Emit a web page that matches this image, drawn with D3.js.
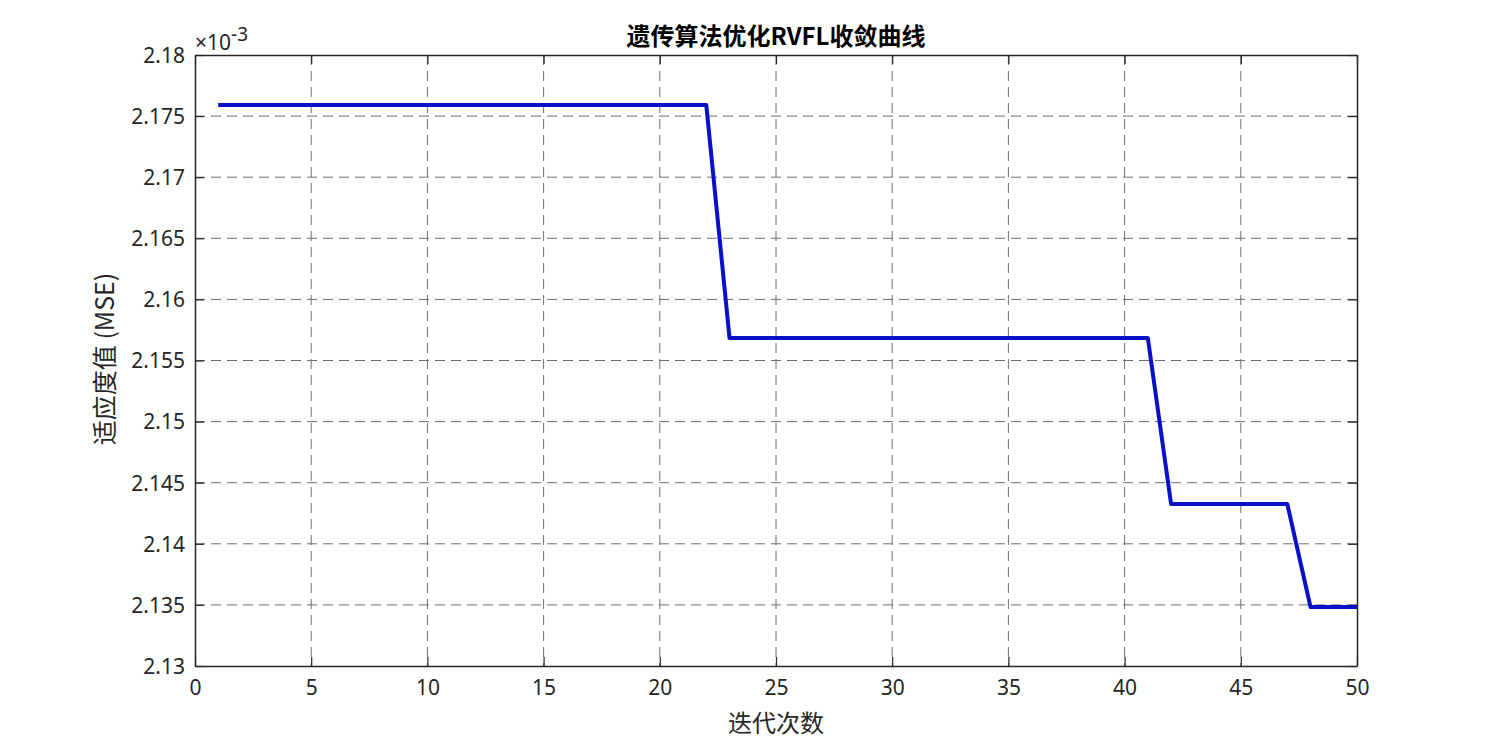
<!DOCTYPE html>
<html>
<head>
<meta charset="utf-8">
<script src="https://cdn.jsdelivr.net/npm/d3@7"></script>
<style>
  body { margin: 0; background: #fff; }
  text { font-family: "Noto Sans", "Noto Sans CJK SC", sans-serif; fill: #262626; }
</style>
</head>
<body>
<div id="chart"></div>
<script>
// data (fitness value per generation)
var generations = d3.range(1, 51);
var levels = [2.17591e-3, 2.15684e-3, 2.14326e-3, 2.13483e-3];
var stepStarts = [1, 23, 42, 48];   // generation at which each level begins
var xTicks = [0, 5, 10, 15, 20, 25, 30, 35, 40, 45, 50];
var yTicks = [2.13e-3, 2.135e-3, 2.14e-3, 2.145e-3, 2.15e-3, 2.155e-3, 2.16e-3, 2.165e-3, 2.17e-3, 2.175e-3, 2.18e-3];

var fitness = generations.map(function(g) {
  var i = 0;
  while (i + 1 < stepStarts.length && g >= stepStarts[i + 1]) i++;
  return levels[i];
});
var data = generations.map(function(g, i) { return {gen: g, val: fitness[i]}; });

// set the dimensions and margins of the graph
var margin = {top: 55, right: 143, bottom: 84, left: 195},
    width = 1500 - margin.left - margin.right,
    height = 750 - margin.top - margin.bottom;

var svg = d3.select("#chart")
  .append("svg")
  .attr("width", 1500)
  .attr("height", 750)
  .append("g")
  .attr("transform", "translate(" + margin.left + "," + margin.top + ")");

var x = d3.scaleLinear().domain([0, 50]).range([0, width]);
var y = d3.scaleLinear().domain([2.13e-3, 2.18e-3]).range([height, 0]);

// grid
svg.append("g").selectAll("line")
  .data(xTicks.slice(1, -1))
  .enter().append("line")
  .attr("x1", d => x(d)).attr("x2", d => x(d))
  .attr("y1", 0).attr("y2", height)
  .attr("stroke", "#6e6e6e").attr("stroke-width", 1)
  .attr("stroke-dasharray", "10,6");

svg.append("g").selectAll("line")
  .data(yTicks.slice(1, -1))
  .enter().append("line")
  .attr("x1", 0).attr("x2", width)
  .attr("y1", d => y(d)).attr("y2", d => y(d))
  .attr("stroke", "#6e6e6e").attr("stroke-width", 1)
  .attr("stroke-dasharray", "10,6");

// axes (ticks inside, box on)
var fmtY = d => d3.format("")(+(d * 1000).toFixed(3));

var xAxis = svg.append("g")
  .attr("transform", "translate(0," + height + ")")
  .call(d3.axisBottom(x).tickValues(xTicks).tickSizeInner(-9).tickSizeOuter(0).tickPadding(14));
var xTop = svg.append("g")
  .call(d3.axisTop(x).tickValues(xTicks).tickSizeInner(-9).tickSizeOuter(0).tickFormat(""));
var yAxis = svg.append("g")
  .call(d3.axisLeft(y).tickValues(yTicks).tickSizeInner(-9).tickSizeOuter(0).tickPadding(10).tickFormat(fmtY));
var yRight = svg.append("g")
  .attr("transform", "translate(" + width + ",0)")
  .call(d3.axisRight(y).tickValues(yTicks).tickSizeInner(-9).tickSizeOuter(0).tickFormat(""));

[xAxis, xTop, yAxis, yRight].forEach(function(a) {
  a.select(".domain").attr("stroke", "#262626").attr("stroke-width", 1.5);
  a.selectAll(".tick line").attr("stroke", "#262626").attr("stroke-width", 1.2);
  a.selectAll(".tick text").style("font-size", "21px").attr("fill", "#262626");
});
yAxis.selectAll(".tick text").attr("dy", "0.35em");

// exponent label
var expo = svg.append("text")
  .attr("x", 0)
  .attr("y", -5)
  .style("font-size", "21px");
expo.append("tspan").text("×10");
expo.append("tspan").attr("dy", -9).style("font-size", "19px").text("-3");

// line
svg.append("path")
  .datum(data)
  .attr("fill", "none")
  .attr("stroke", "#0a10c8")
  .attr("stroke-width", 4)
  .attr("stroke-linejoin", "round")
  .attr("d", d3.line().x(d => x(d.gen)).y(d => y(d.val)));

// title
svg.append("text")
  .attr("text-anchor", "middle")
  .attr("x", width / 2)
  .attr("y", -10)
  .style("font-size", "24px")
  .style("font-weight", "bold")
  .style("font-family", "'Noto Sans CJK SC', sans-serif")
  .style("fill", "#000")
  .text("遗传算法优化RVFL收敛曲线");

// x label
svg.append("text")
  .attr("text-anchor", "middle")
  .attr("x", width / 2)
  .attr("y", height + 66)
  .style("font-size", "24px")
  .style("font-family", "'Noto Sans CJK SC', sans-serif")
  .text("迭代次数");

// y label
svg.append("text")
  .attr("text-anchor", "middle")
  .attr("transform", "rotate(-90)")
  .attr("x", -304)
  .attr("y", -81)
  .style("font-size", "25px")
  .style("font-family", "'Noto Sans CJK SC', sans-serif")
  .text("适应度值 (MSE)");
</script>
</body>
</html>
